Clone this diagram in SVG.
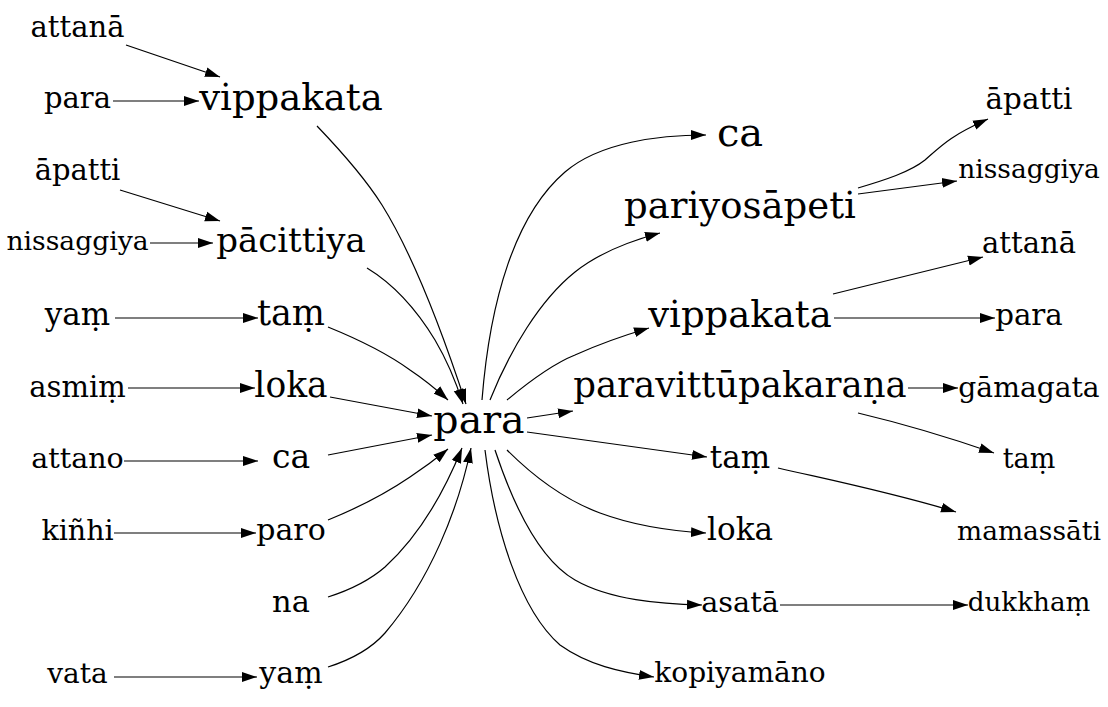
<svg xmlns="http://www.w3.org/2000/svg" width="1108" height="707" viewBox="0 0 1108 707">
<style>
text{font-family:"DejaVu Serif","Liberation Serif",serif;text-anchor:middle;fill:#000}
.e path,.e line{fill:none;stroke:#000;stroke-width:1.2;marker-end:url(#ah)}
</style>
<defs>
<marker id="ah" markerUnits="userSpaceOnUse" markerWidth="15" markerHeight="11" viewBox="0 -5 14 10" refX="14" refY="0" orient="auto">
<path d="M0,-4.6 L14,0 L0,4.6 Z" fill="#000"/>
</marker>
</defs>
<rect width="1108" height="707" fill="#fff"/>
<g class="e" id="edges">
<line x1="126" y1="45" x2="220" y2="77"/>
<line x1="113" y1="101" x2="199" y2="101"/>
<line x1="120" y1="190" x2="220" y2="221"/>
<line x1="150" y1="243" x2="213" y2="243"/>
<line x1="115" y1="318" x2="258" y2="318"/>
<line x1="128" y1="388" x2="255" y2="388"/>
<line x1="124" y1="461" x2="258" y2="461"/>
<line x1="114" y1="533" x2="256" y2="533"/>
<line x1="114" y1="677" x2="257" y2="677"/>
<path d="M317,126 C340,150 365,178 382,205 C415,258 445,340 466,404"/>
<path d="M367,268 C395,285 418,312 435,340 C448,362 457,385 463,404"/>
<path d="M328,327 C360,340 388,354 410,370 C425,380 437,390 448,400"/>
<path d="M330,397 L432,416"/>
<path d="M328,455 L432,435"/>
<path d="M328,520 C360,507 388,492 410,477 C425,467 437,458 448,449"/>
<path d="M328,597 C350,590 370,580 385,567 C420,535 445,490 462,448"/>
<path d="M328,667 C350,660 370,650 385,633 C430,580 458,510 471,448"/>
<path d="M482,400 C490,300 515,215 565,172 C600,142 660,135 706,135"/>
<path d="M490,400 C510,350 540,300 575,272 C600,252 630,241 660,233"/>
<path d="M507,400 C525,385 550,365 575,355 C597,345 622,336 649,328"/>
<path d="M527,418 L573,411"/>
<path d="M527,432 L707,457"/>
<path d="M507,450 C535,478 565,500 600,513 C635,526 670,531 706,533"/>
<path d="M495,450 C515,510 540,560 575,580 C610,600 660,604 702,605"/>
<path d="M485,450 C495,530 520,610 560,645 C588,665 620,672 654,677"/>
<path d="M858,188 C885,180 910,172 925,160 C942,145 950,136 988,119"/>
<line x1="858" y1="194" x2="957" y2="181"/>
<line x1="833" y1="294" x2="983" y2="257"/>
<line x1="834" y1="318" x2="995" y2="318"/>
<line x1="908" y1="388" x2="958" y2="388"/>
<path d="M858,413 C900,423 945,436 994,453"/>
<path d="M778,468 C830,480 890,492 956,512"/>
<line x1="780" y1="605" x2="968" y2="605"/>
</g>
<g id="n_attana_l"><text x="77.5" y="37" font-size="29">attanā</text></g>
<g id="n_para_l"><text x="77.5" y="108" font-size="29">para</text></g>
<g id="n_apatti_l"><text x="77.5" y="180" font-size="29">āpatti</text></g>
<g id="n_nissaggiya_l"><text x="77.5" y="250" font-size="26.6">nissaggiya</text></g>
<g id="n_yam_l"><text x="77.5" y="325" font-size="31">yaṃ</text></g>
<g id="n_asmim"><text x="77.5" y="397" font-size="29">asmiṃ</text></g>
<g id="n_attano"><text x="77.5" y="468" font-size="28.5">attano</text></g>
<g id="n_kinhi"><text x="77.5" y="540" font-size="28.5">kiñhi</text></g>
<g id="n_vata"><text x="77.5" y="683" font-size="28">vata</text></g>
<g id="n_vippakata_l"><text x="291" y="110" font-size="37">vippakata</text></g>
<g id="n_pacittiya"><text x="291" y="252" font-size="34">pācittiya</text></g>
<g id="n_tam_l"><text x="291" y="325" font-size="35">taṃ</text></g>
<g id="n_loka_l"><text x="291" y="397" font-size="34.5">loka</text></g>
<g id="n_ca_l"><text x="291" y="468" font-size="33">ca</text></g>
<g id="n_paro"><text x="291" y="540" font-size="30">paro</text></g>
<g id="n_na"><text x="291" y="612" font-size="30.5">na</text></g>
<g id="n_yam_c"><text x="291" y="683" font-size="30">yaṃ</text></g>
<g id="n_para"><text x="479" y="433" font-size="39.5">para</text></g>
<g id="n_ca_r"><text x="740" y="146" font-size="40">ca</text></g>
<g id="n_pariyosapeti"><text x="740" y="218" font-size="37">pariyosāpeti</text></g>
<g id="n_vippakata_r"><text x="740" y="327" font-size="37">vippakata</text></g>
<g id="n_paravittupakarana"><text x="740" y="397" font-size="35.5">paravittūpakaraṇa</text></g>
<g id="n_tam_r"><text x="740" y="468" font-size="31">taṃ</text></g>
<g id="n_loka_r"><text x="740" y="540" font-size="31">loka</text></g>
<g id="n_asata"><text x="740" y="612" font-size="28.7">asatā</text></g>
<g id="n_kopiyamano"><text x="740" y="682" font-size="28">kopiyamāno</text></g>
<g id="n_apatti_r"><text x="1029" y="109" font-size="29.4">āpatti</text></g>
<g id="n_nissaggiya_r"><text x="1029" y="178" font-size="26.5">nissaggiya</text></g>
<g id="n_attana_r"><text x="1029" y="253" font-size="29">attanā</text></g>
<g id="n_para_r"><text x="1029" y="325" font-size="29.3">para</text></g>
<g id="n_gamagata"><text x="1029" y="397" font-size="28.2">gāmagata</text></g>
<g id="n_tam_rr"><text x="1029" y="468" font-size="27">taṃ</text></g>
<g id="n_mamassati"><text x="1029" y="540" font-size="26.5">mamassāti</text></g>
<g id="n_dukkham"><text x="1029" y="611" font-size="26.2">dukkhaṃ</text></g>
</svg>
